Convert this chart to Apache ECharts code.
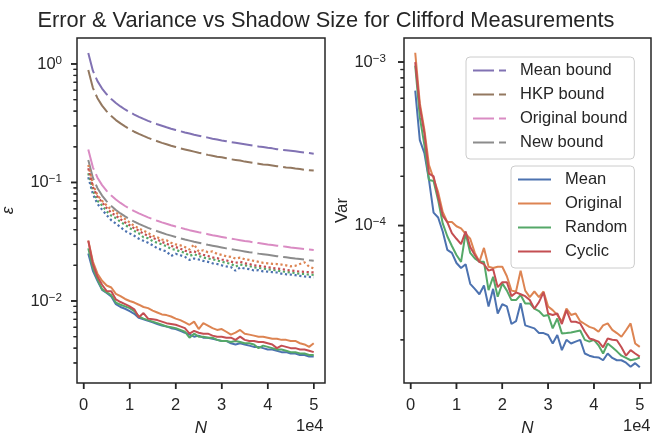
<!DOCTYPE html>
<html>
<head>
<meta charset="utf-8">
<title>Error &amp; Variance vs Shadow Size</title>
<script src="https://cdn.jsdelivr.net/npm/echarts@6/dist/echarts.min.js"></script>
<style>
  html, body { margin: 0; padding: 0; background: #fff; }
  #chart { width: 652px; height: 437px; }
</style>
</head>
<body>
<div id="chart"></div>
<script>
// shadow sizes N
var shadowSizes = [1000, 2000, 3000, 4000, 5000, 6000, 7000, 8000, 9000, 10000,
  11000, 12000, 13000, 14000, 15000, 16000, 17000, 18000, 19000, 20000,
  21000, 22000, 23000, 24000, 25000, 26000, 27000, 28000, 29000, 30000,
  31000, 32000, 33000, 34000, 35000, 36000, 37000, 38000, 39000, 40000,
  41000, 42000, 43000, 44000, 45000, 46000, 47000, 48000, 49000, 50000];

// left panel, bounds (dashed)
var boundMean = [1.240, 0.877, 0.716, 0.620, 0.555, 0.506, 0.469, 0.438, 0.413, 0.392,
  0.374, 0.358, 0.344, 0.331, 0.320, 0.310, 0.301, 0.292, 0.284, 0.277,
  0.271, 0.264, 0.259, 0.253, 0.248, 0.243, 0.239, 0.234, 0.230, 0.226,
  0.223, 0.219, 0.216, 0.213, 0.210, 0.207, 0.204, 0.201, 0.199, 0.196,
  0.194, 0.191, 0.189, 0.187, 0.185, 0.183, 0.181, 0.179, 0.177, 0.175];
var boundHKP = [0.890, 0.629, 0.514, 0.445, 0.398, 0.363, 0.336, 0.315, 0.297, 0.281,
  0.268, 0.257, 0.247, 0.238, 0.230, 0.223, 0.216, 0.210, 0.204, 0.199,
  0.194, 0.190, 0.186, 0.182, 0.178, 0.175, 0.171, 0.168, 0.165, 0.163,
  0.160, 0.157, 0.155, 0.153, 0.150, 0.148, 0.146, 0.144, 0.142, 0.141,
  0.139, 0.137, 0.136, 0.134, 0.133, 0.131, 0.130, 0.128, 0.127, 0.126];
var boundOriginal = [0.190, 0.1343, 0.1097, 0.0950, 0.0850, 0.0776, 0.0718, 0.0672, 0.0633, 0.0601,
  0.0573, 0.0549, 0.0527, 0.0508, 0.0491, 0.0475, 0.0461, 0.0448, 0.0436, 0.0425,
  0.0415, 0.0405, 0.0396, 0.0388, 0.0380, 0.0373, 0.0366, 0.0359, 0.0353, 0.0347,
  0.0341, 0.0336, 0.0331, 0.0326, 0.0321, 0.0317, 0.0312, 0.0308, 0.0304, 0.0300,
  0.0297, 0.0293, 0.0290, 0.0287, 0.0283, 0.0280, 0.0277, 0.0274, 0.0272, 0.0269];
var boundNew = [0.155, 0.1096, 0.0895, 0.0775, 0.0693, 0.0633, 0.0586, 0.0548, 0.0517, 0.0490,
  0.0467, 0.0447, 0.0430, 0.0414, 0.0400, 0.0388, 0.0376, 0.0365, 0.0356, 0.0347,
  0.0338, 0.0330, 0.0323, 0.0316, 0.0310, 0.0304, 0.0298, 0.0293, 0.0288, 0.0283,
  0.0278, 0.0274, 0.0270, 0.0266, 0.0262, 0.0258, 0.0255, 0.0251, 0.0248, 0.0245,
  0.0242, 0.0239, 0.0236, 0.0234, 0.0231, 0.0228, 0.0226, 0.0224, 0.0221, 0.0219];

// left panel, dotted curves
var dotMean = [0.1106, 0.0800, 0.0660, 0.0590, 0.0530, 0.0480, 0.0450, 0.0420, 0.0390, 0.0372,
  0.0355, 0.0335, 0.0322, 0.0310, 0.0295, 0.0278, 0.0270, 0.0262, 0.0240, 0.0250,
  0.0243, 0.0236, 0.0222, 0.0228, 0.0224, 0.0218, 0.0214, 0.0208, 0.0205, 0.0200,
  0.0196, 0.0193, 0.0180, 0.0192, 0.0188, 0.0186, 0.0181, 0.0182, 0.0178, 0.0177,
  0.0175, 0.0174, 0.0170, 0.0168, 0.0167, 0.0165, 0.0163, 0.0161, 0.0160, 0.0158];
var dotOriginal = [0.1405, 0.0960, 0.0780, 0.0700, 0.0640, 0.0590, 0.0560, 0.0520, 0.0490, 0.0460,
  0.0430, 0.0410, 0.0392, 0.0375, 0.0355, 0.0345, 0.0330, 0.0325, 0.0310, 0.0300,
  0.0295, 0.0285, 0.0272, 0.0300, 0.0262, 0.0268, 0.0258, 0.0262, 0.0250, 0.0245,
  0.0238, 0.0236, 0.0228, 0.0232, 0.0225, 0.0222, 0.0218, 0.0214, 0.0210, 0.0208,
  0.0206, 0.0205, 0.0203, 0.0200, 0.0196, 0.0198, 0.0205, 0.0212, 0.0195, 0.0188];
var dotRandom = [0.1195, 0.0860, 0.0700, 0.0640, 0.0570, 0.0525, 0.0500, 0.0465, 0.0440, 0.0412,
  0.0390, 0.0372, 0.0345, 0.0338, 0.0320, 0.0310, 0.0300, 0.0290, 0.0275, 0.0270,
  0.0262, 0.0255, 0.0240, 0.0248, 0.0240, 0.0233, 0.0228, 0.0225, 0.0220, 0.0214,
  0.0210, 0.0206, 0.0195, 0.0203, 0.0200, 0.0197, 0.0192, 0.0190, 0.0188, 0.0185,
  0.0183, 0.0181, 0.0178, 0.0176, 0.0174, 0.0172, 0.0170, 0.0169, 0.0167, 0.0166];
var dotCyclic = [0.1318, 0.0920, 0.0760, 0.0680, 0.0610, 0.0555, 0.0525, 0.0490, 0.0460, 0.0436,
  0.0410, 0.0392, 0.0370, 0.0355, 0.0340, 0.0330, 0.0315, 0.0305, 0.0292, 0.0285,
  0.0276, 0.0266, 0.0258, 0.0262, 0.0252, 0.0245, 0.0240, 0.0233, 0.0230, 0.0224,
  0.0220, 0.0215, 0.0210, 0.0214, 0.0208, 0.0205, 0.0200, 0.0198, 0.0196, 0.0193,
  0.0190, 0.0188, 0.0186, 0.0183, 0.0181, 0.0179, 0.0177, 0.0176, 0.0175, 0.0174];

// left panel, errors (solid)
var errMean = [0.0252, 0.0180, 0.0148, 0.0124, 0.0117, 0.0109, 0.0094, 0.0089, 0.0086, 0.0082,
  0.0078, 0.0072, 0.0070, 0.0068, 0.0066, 0.0064, 0.0062, 0.0061, 0.0059, 0.0058,
  0.0056, 0.0054, 0.0052, 0.0050, 0.0051, 0.0049, 0.0049, 0.0048, 0.0047, 0.0046,
  0.0046, 0.0044, 0.0043, 0.0044, 0.0043, 0.0042, 0.0041, 0.0041, 0.0040, 0.0039,
  0.0039, 0.0038, 0.0037, 0.0037, 0.0036, 0.0036, 0.0035, 0.0035, 0.0034, 0.0034];
var errOriginal = [0.0323, 0.0215, 0.0170, 0.0148, 0.0135, 0.0130, 0.0115, 0.0110, 0.0104, 0.0100,
  0.0097, 0.0093, 0.0089, 0.0087, 0.0083, 0.0080, 0.0077, 0.0076, 0.0074, 0.0071,
  0.0069, 0.0066, 0.0063, 0.0067, 0.0058, 0.0065, 0.0062, 0.0059, 0.0057, 0.0058,
  0.0055, 0.0052, 0.0054, 0.0057, 0.0053, 0.0052, 0.0051, 0.0050, 0.0050, 0.0049,
  0.0048, 0.0048, 0.0047, 0.0047, 0.0046, 0.0046, 0.0044, 0.0043, 0.0041, 0.0044];
var errRandom = [0.0278, 0.0190, 0.0152, 0.0126, 0.0118, 0.0112, 0.0097, 0.0093, 0.0090, 0.0087,
  0.0082, 0.0074, 0.0071, 0.0069, 0.0067, 0.0065, 0.0063, 0.0061, 0.0060, 0.0059,
  0.0057, 0.0055, 0.0049, 0.0053, 0.0050, 0.0050, 0.0049, 0.0049, 0.0047, 0.0046,
  0.0046, 0.0045, 0.0046, 0.0045, 0.0044, 0.0044, 0.0043, 0.0040, 0.0042, 0.0041,
  0.0040, 0.0039, 0.0039, 0.0038, 0.0037, 0.0037, 0.0036, 0.0036, 0.0035, 0.0035];
var errCyclic = [0.0323, 0.0205, 0.0160, 0.0137, 0.0121, 0.0121, 0.0103, 0.0098, 0.0094, 0.0090,
  0.0085, 0.0073, 0.0079, 0.0071, 0.0070, 0.0069, 0.0067, 0.0065, 0.0064, 0.0063,
  0.0061, 0.0059, 0.0053, 0.0056, 0.0054, 0.0053, 0.0053, 0.0051, 0.0050, 0.0050,
  0.0049, 0.0049, 0.0047, 0.0050, 0.0047, 0.0046, 0.0046, 0.0045, 0.0045, 0.0044,
  0.0043, 0.0040, 0.0042, 0.0041, 0.0040, 0.0040, 0.0039, 0.0039, 0.0038, 0.0037];

// right panel, variance
var varMean = [6.68e-4, 3.33e-4, 2.77e-4, 1.90e-4, 1.20e-4, 1.12e-4, 9.2e-5, 7.1e-5, 6.8e-5, 5.9e-5,
  5.5e-5, 5.8e-5, 4.4e-5, 4.1e-5, 3.8e-5, 4.3e-5, 3.2e-5, 4.1e-5, 2.9e-5, 3.3e-5,
  3.2e-5, 2.5e-5, 2.6e-5, 3.35e-5, 2.45e-5, 2.4e-5, 2.35e-5, 2.2e-5, 2.2e-5, 2.14e-5,
  1.9e-5, 2.14e-5, 1.73e-5, 2.0e-5, 1.9e-5, 1.95e-5, 2.0e-5, 1.65e-5, 1.6e-5, 1.57e-5,
  1.56e-5, 1.5e-5, 1.65e-5, 1.55e-5, 1.5e-5, 1.5e-5, 1.45e-5, 1.37e-5, 1.44e-5, 1.36e-5];
var varOriginal = [1.14e-3, 5.6e-4, 3.84e-4, 2.34e-4, 1.94e-4, 1.6e-4, 1.21e-4, 1.05e-4, 1.05e-4, 9.9e-5,
  9.6e-5, 8.9e-5, 8.3e-5, 6.8e-5, 6.0e-5, 7.3e-5, 5.6e-5, 5.5e-5, 5.6e-5, 5.6e-5,
  4.9e-5, 4.0e-5, 3.95e-5, 5.3e-5, 4.0e-5, 3.65e-5, 3.95e-5, 3.65e-5, 3.95e-5, 3.2e-5,
  3.04e-5, 2.84e-5, 2.58e-5, 3.11e-5, 2.84e-5, 2.9e-5, 2.6e-5, 2.5e-5, 2.4e-5, 2.35e-5,
  2.24e-5, 2.45e-5, 2.52e-5, 2.3e-5, 2.2e-5, 2.09e-5, 2.29e-5, 2.52e-5, 1.9e-5, 1.81e-5];
var varRandom = [9.5e-4, 4.6e-4, 3.1e-4, 1.9e-4, 1.87e-4, 1.43e-4, 1.03e-4, 8.6e-5, 7.5e-5, 6.6e-5,
  6.0e-5, 9.0e-5, 6.8e-5, 6.3e-5, 6.0e-5, 6.0e-5, 4.03e-5, 4.86e-5, 3.67e-5, 4.43e-5,
  4.0e-5, 3.5e-5, 3.5e-5, 3.76e-5, 3.34e-5, 3.34e-5, 3.1e-5, 3.0e-5, 2.8e-5, 2.84e-5,
  2.35e-5, 2.7e-5, 2.19e-5, 2.2e-5, 2.22e-5, 2.25e-5, 2.28e-5, 2.0e-5, 1.95e-5, 2.0e-5,
  1.85e-5, 1.65e-5, 1.9e-5, 1.8e-5, 1.7e-5, 1.6e-5, 1.55e-5, 1.5e-5, 1.52e-5, 1.56e-5];
var varCyclic = [1.0e-3, 5.33e-4, 3.66e-4, 2.08e-4, 2.0e-4, 1.5e-4, 1.15e-4, 1.05e-4, 9.0e-5, 8.3e-5,
  7.7e-5, 9.2e-5, 7.4e-5, 6.6e-5, 6.0e-5, 5.8e-5, 5.3e-5, 5.4e-5, 4.2e-5, 4.5e-5,
  4.5e-5, 3.7e-5, 3.9e-5, 3.8e-5, 3.7e-5, 3.5e-5, 3.1e-5, 3.4e-5, 3.9e-5, 2.9e-5,
  2.84e-5, 2.9e-5, 2.5e-5, 3.04e-5, 2.58e-5, 2.58e-5, 2.52e-5, 2.25e-5, 2.04e-5, 2.0e-5,
  1.95e-5, 1.8e-5, 2.04e-5, 2.0e-5, 1.99e-5, 1.8e-5, 1.6e-5, 1.73e-5, 1.65e-5, 1.58e-5];

// ticks
var xTicks = [0, 10000, 20000, 30000, 40000, 50000];
var xTickLabels = ['0', '1', '2', '3', '4', '5'];
var leftMajor = [0.01, 0.1, 1];
var leftMinor = [0.003, 0.004, 0.005, 0.006, 0.007, 0.008, 0.009,
  0.02, 0.03, 0.04, 0.05, 0.06, 0.07, 0.08, 0.09,
  0.2, 0.3, 0.4, 0.5, 0.6, 0.7, 0.8, 0.9];
var rightMajor = [1e-4, 1e-3];
var rightMinor = [2e-5, 3e-5, 4e-5, 5e-5, 6e-5, 7e-5, 8e-5, 9e-5,
  2e-4, 3e-4, 4e-4, 5e-4, 6e-4, 7e-4, 8e-4, 9e-4];

var FONT = 'Liberation Sans';
var INK = '#262626';
var C = {
  blue: '#4c72b0', orange: '#dd8452', green: '#55a868', red: '#c44e52',
  purple: '#8172b3', brown: '#937860', pink: '#da8bc3', gray: '#8c8c8c'
};

var X_EXT = [-1450, 52450];
var LEFT_EXT = [-2.692, 0.219];   // log10 units
var RIGHT_EXT = [-4.963, -2.853];

// the y axes are plotted in log10 units
function lg(list) { return list.map(function (v) { return Math.log10(v); }); }
function pairs(vals) {
  return vals.map(function (v, i) { return [shadowSizes[i], Math.log10(v)]; });
}

function powLabel(v) {
  var e = Math.round(v);
  return '{b|10}{s|' + (e < 0 ? '\u2212' + (-e) : e) + '}';
}

function xAxisFor(grid) {
  return {
    type: 'value', gridIndex: grid, min: X_EXT[0], max: X_EXT[1], position: 'bottom',
    name: 'N', nameLocation: 'middle', nameGap: 37,
    nameTextStyle: { fontFamily: FONT, fontSize: 17, fontStyle: 'italic', color: INK },
    axisLine: { show: false, onZero: false },
    splitLine: { show: false },
    axisTick: { show: false },
    axisLabel: {
      customValues: xTicks, margin: 14, fontFamily: FONT, fontSize: 16.5, color: INK,
      formatter: function (v) { return xTickLabels[xTicks.indexOf(v)]; }
    }
  };
}

function yAxisFor(grid, ext, major, name, gap, nameStyle, margin) {
  return {
    type: 'value', gridIndex: grid, min: ext[0], max: ext[1], position: 'left',
    name: name, nameLocation: 'middle', nameGap: gap, nameRotate: 90,
    nameTextStyle: nameStyle,
    axisLine: { show: false, onZero: false },
    splitLine: { show: false },
    axisTick: { show: false },
    axisLabel: {
      customValues: lg(major), margin: margin, formatter: powLabel,
      rich: {
        b: { fontFamily: FONT, fontSize: 16.5, color: INK, lineHeight: 17, verticalAlign: 'bottom' },
        s: { fontFamily: FONT, fontSize: 11.6, color: INK, lineHeight: 12, verticalAlign: 'bottom', padding: [0, 0, 6, 0] }
      }
    }
  };
}

function line(name, vals, color, idx, dash) {
  return {
    name: name, type: 'line', xAxisIndex: idx, yAxisIndex: idx,
    data: pairs(vals), symbol: 'none', showSymbol: false,
    lineStyle: { color: color, width: dash === DOT ? 2.2 : 2, type: dash || 'solid', cap: 'butt' },
    itemStyle: { color: color }
  };
}

// a tick is a small filled bar hanging outward from the axis point p
function tickRect(p, dir, len, width) {
  if (dir === 'down') {
    return { x: p[0] - width / 2, y: p[1], width: width, height: len };
  }
  return { x: p[0] - len, y: p[1] - width / 2, width: len, height: width };
}

// outward tick marks, placed through the axis scales
function tickSeries(idx, points, dir, len, width) {
  return {
    type: 'custom', xAxisIndex: idx, yAxisIndex: idx, silent: true, clip: false, z: 5,
    data: points,
    renderItem: function (params, api) {
      var p = api.coord([api.value(0), api.value(1)]);
      return { type: 'rect', shape: tickRect(p, dir, len, width), style: { fill: INK } };
    }
  };
}
function xTickPoints(ext) { return xTicks.map(function (v) { return [v, ext[0]]; }); }
function yTickPoints(vals) { return lg(vals).map(function (v) { return [X_EXT[0], v]; }); }

var DASH = [21, 5];
var DOT = [2.2, 2.6];

var myChart = echarts.init(document.getElementById('chart'));

var legendBase = {
  orient: 'vertical', itemWidth: 33, itemHeight: 14, itemGap: 7,
  padding: [5, 7, 8, 6],
  backgroundColor: 'rgba(255,255,255,0.8)', borderColor: '#cccccc', borderWidth: 1, borderRadius: 4,
  itemStyle: { opacity: 0 },
  textStyle: { fontFamily: FONT, fontSize: 16.5, color: INK, lineHeight: 16.5, padding: [0, 0, 0, 9] }
};

var offsetTexts = [
  { type: 'text', x: 323.5, y: 418, style: { text: '1e4', align: 'right', fontFamily: FONT, fontSize: 16.5, fill: INK } },
  { type: 'text', x: 650.5, y: 418, style: { text: '1e4', align: 'right', fontFamily: FONT, fontSize: 16.5, fill: INK } }
];

var option = {
  animation: false,
  title: {
    text: 'Error & Variance vs Shadow Size for Clifford Measurements',
    left: 'center', top: 5,
    textStyle: { fontFamily: FONT, fontSize: 21.8, fontWeight: 'normal', color: INK }
  },
  legend: [
    Object.assign({}, legendBase, {
      left: 466, top: 57,
      data: ['Mean bound', 'HKP bound', 'Original bound', 'New bound']
    }),
    Object.assign({}, legendBase, {
      left: 511, top: 166,
      data: ['Mean', 'Original', 'Random', 'Cyclic']
    })
  ],
  grid: [
    { left: 77, right: 327, top: 38, bottom: 54, outerBoundsMode: 'none', containLabel: false,
      show: true, borderColor: INK, borderWidth: 1.5 },
    { left: 404, right: 1, top: 38, bottom: 54, outerBoundsMode: 'none', containLabel: false,
      show: true, borderColor: INK, borderWidth: 1.5 }
  ],
  xAxis: [xAxisFor(0), xAxisFor(1)],
  yAxis: [
    yAxisFor(0, LEFT_EXT, leftMajor, '\u03b5', 60,
      { fontFamily: FONT, fontSize: 17, fontStyle: 'italic', color: INK }, 15),
    yAxisFor(1, RIGHT_EXT, rightMajor, 'Var', 52,
      { fontFamily: FONT, fontSize: 17, color: INK }, 18)
  ],
  graphic: offsetTexts,
  series: [
    line('Mean bound', boundMean, C.purple, 0, DASH),
    line('HKP bound', boundHKP, C.brown, 0, DASH),
    line('Original bound', boundOriginal, C.pink, 0, DASH),
    line('New bound', boundNew, C.gray, 0, DASH),
    line('Mean (dotted)', dotMean, C.blue, 0, DOT),
    line('Original (dotted)', dotOriginal, C.orange, 0, DOT),
    line('Random (dotted)', dotRandom, C.green, 0, DOT),
    line('Cyclic (dotted)', dotCyclic, C.red, 0, DOT),
    line('Mean', errMean, C.blue, 0),
    line('Original', errOriginal, C.orange, 0),
    line('Random', errRandom, C.green, 0),
    line('Cyclic', errCyclic, C.red, 0),
    line('Mean', varMean, C.blue, 1),
    line('Original', varOriginal, C.orange, 1),
    line('Random', varRandom, C.green, 1),
    line('Cyclic', varCyclic, C.red, 1),
    tickSeries(0, xTickPoints(LEFT_EXT), 'down', 6, 1.5),
    tickSeries(1, xTickPoints(RIGHT_EXT), 'down', 6, 1.5),
    tickSeries(0, yTickPoints(leftMajor), 'left', 6, 1.5),
    tickSeries(0, yTickPoints(leftMinor), 'left', 3.5, 1.2),
    tickSeries(1, yTickPoints(rightMajor), 'left', 6, 1.5),
    tickSeries(1, yTickPoints(rightMinor), 'left', 3.5, 1.2)
  ]
};

myChart.setOption(option);

// the same ticks as plain graphic bars, in case the custom series is clipped
var tickEls = [];
function addTick(idx, pt, dir, len, width) {
  var p = myChart.convertToPixel({ gridIndex: idx }, pt);
  if (!p || isNaN(p[0]) || isNaN(p[1])) { return; }
  tickEls.push({ type: 'rect', silent: true, z: 100, shape: tickRect(p, dir, len, width), style: { fill: INK } });
}
[[0, LEFT_EXT, leftMajor, leftMinor], [1, RIGHT_EXT, rightMajor, rightMinor]].forEach(function (g) {
  xTickPoints(g[1]).forEach(function (pt) { addTick(g[0], pt, 'down', 6, 1.5); });
  yTickPoints(g[2]).forEach(function (pt) { addTick(g[0], pt, 'left', 6, 1.5); });
  yTickPoints(g[3]).forEach(function (pt) { addTick(g[0], pt, 'left', 3.5, 1.2); });
});
myChart.setOption({ graphic: offsetTexts.concat(tickEls) });
</script>
</body>
</html>
